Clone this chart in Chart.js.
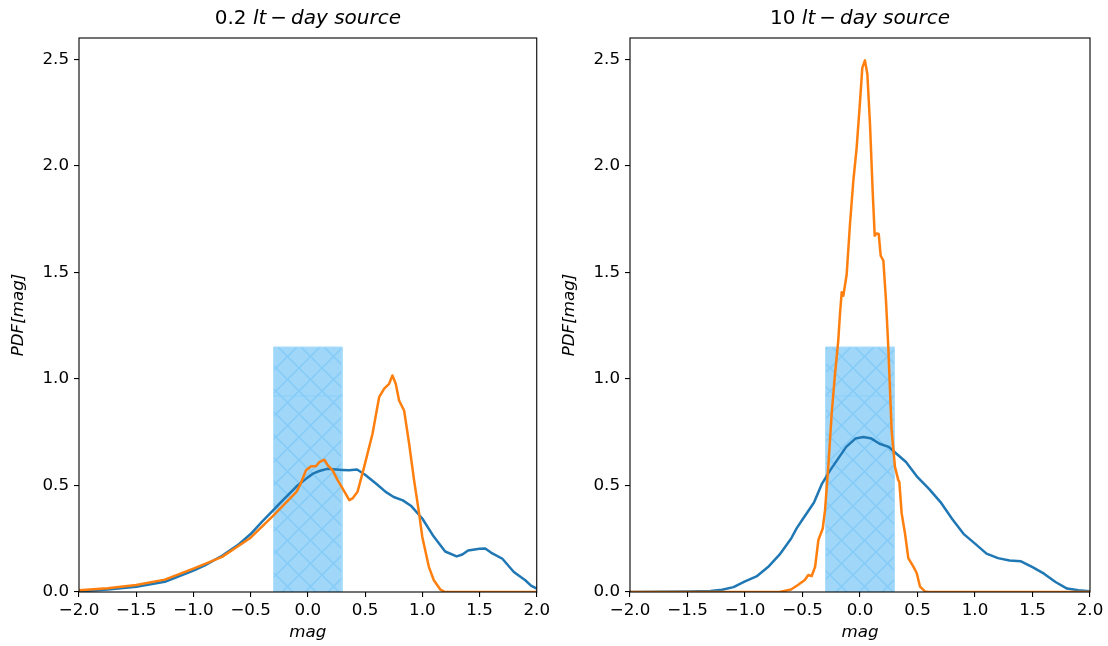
<!DOCTYPE html>
<html>
<head>
<meta charset="utf-8">
<script src="https://cdn.jsdelivr.net/npm/chart.js@4.4.0/dist/chart.umd.min.js"></script>
<style>
  body { margin: 0; background: #fff; }
  #wrap { position: relative; width: 1108px; height: 646px; }
  canvas { position: absolute; top: 0; }
</style>
</head>
<body>
<div id="wrap">
  <canvas id="left" width="554" height="646" style="left:0"></canvas>
  <canvas id="right" width="554" height="646" style="left:554px"></canvas>
</div>
<script>
// tick labels
const xTicks = [-2, -1.5, -1, -0.5, 0, 0.5, 1, 1.5, 2];
const yTicks = [0, 0.5, 1, 1.5, 2, 2.5];
const sourceSizes = ['0.2', '10'];

// shaded band (same in both panels)
const bandX = [-0.3, -0.3, 0.3, 0.3];
const bandY = [0, 1.15, 1.15, 0];
const seamY = 0.92;

// 0.2 lt-day source
const leftBlueX = [-2.0, -1.75, -1.5, -1.25, -1.0, -0.9, -0.75, -0.6, -0.5, -0.4, -0.3, -0.2, -0.1, 0.0, 0.05, 0.1, 0.17, 0.25, 0.3, 0.36, 0.43, 0.5, 0.6, 0.68, 0.75, 0.83, 0.9, 1.0, 1.1, 1.2, 1.3, 1.35, 1.4, 1.5, 1.55, 1.6, 1.7, 1.8, 1.9, 1.95, 2.0];
const leftBlueY = [0.003, 0.012, 0.025, 0.048, 0.1, 0.125, 0.17, 0.225, 0.272, 0.33, 0.385, 0.44, 0.495, 0.538, 0.557, 0.568, 0.578, 0.575, 0.573, 0.571, 0.575, 0.55, 0.507, 0.47, 0.446, 0.43, 0.405, 0.345, 0.26, 0.19, 0.167, 0.176, 0.195, 0.203, 0.204, 0.185, 0.156, 0.094, 0.055, 0.03, 0.016];
const leftOrangeX = [-2.0, -1.75, -1.5, -1.25, -1.0, -0.75, -0.5, -0.3, -0.2, -0.1, -0.07, -0.016, 0.028, 0.071, 0.1, 0.144, 0.173, 0.216, 0.26, 0.303, 0.362, 0.39, 0.434, 0.492, 0.565, 0.623, 0.667, 0.71, 0.739, 0.768, 0.797, 0.841, 0.885, 0.928, 0.972, 1.0, 1.058, 1.101, 1.159, 1.2, 1.5, 2.0];
const leftOrangeY = [0.008, 0.018, 0.033, 0.058, 0.11, 0.165, 0.255, 0.36, 0.415, 0.47, 0.5, 0.571, 0.59, 0.59, 0.61, 0.621, 0.595, 0.571, 0.525, 0.486, 0.431, 0.439, 0.47, 0.587, 0.743, 0.915, 0.954, 0.977, 1.016, 0.977, 0.899, 0.852, 0.696, 0.525, 0.369, 0.258, 0.117, 0.055, 0.011, 0.0, 0.0, 0.0];

// 10 lt-day source
const rightBlueX = [-2.0, -1.5, -1.3, -1.2, -1.1, -1.0, -0.9, -0.8, -0.7, -0.6, -0.55, -0.5, -0.4, -0.33, -0.26, -0.19, -0.12, -0.04, 0.03, 0.1, 0.17, 0.25, 0.3, 0.4, 0.5, 0.6, 0.7, 0.8, 0.9, 1.0, 1.1, 1.2, 1.3, 1.4, 1.5, 1.6, 1.7, 1.8, 1.9, 2.0];
const rightBlueY = [0.0, 0.002, 0.005, 0.011, 0.023, 0.05, 0.073, 0.117, 0.175, 0.25, 0.3, 0.34, 0.42, 0.509, 0.571, 0.626, 0.681, 0.72, 0.727, 0.72, 0.696, 0.681, 0.657, 0.61, 0.539, 0.484, 0.422, 0.344, 0.273, 0.227, 0.18, 0.159, 0.148, 0.144, 0.117, 0.086, 0.047, 0.016, 0.008, 0.003];
const rightOrangeX = [-2.0, -0.7, -0.6, -0.54, -0.48, -0.45, -0.42, -0.39, -0.362, -0.324, -0.304, -0.276, -0.246, -0.217, -0.189, -0.174, -0.159, -0.145, -0.116, -0.087, -0.058, -0.029, 0.0, 0.02, 0.043, 0.064, 0.087, 0.11, 0.128, 0.145, 0.163, 0.18, 0.203, 0.226, 0.246, 0.275, 0.304, 0.333, 0.342, 0.362, 0.391, 0.42, 0.464, 0.493, 0.522, 0.565, 0.6, 2.0];
const rightOrangeY = [0, 0, 0.012, 0.033, 0.056, 0.08, 0.075, 0.119, 0.244, 0.298, 0.384, 0.587, 0.838, 1.025, 1.18, 1.306, 1.407, 1.39, 1.49, 1.727, 1.93, 2.086, 2.3, 2.46, 2.495, 2.43, 2.195, 1.883, 1.672, 1.683, 1.68, 1.578, 1.555, 1.368, 1.149, 0.759, 0.587, 0.525, 0.517, 0.37, 0.276, 0.159, 0.119, 0.089, 0.025, 0.003, 0, 0];

const FONT = '"DejaVu Sans", sans-serif';
const pts = (xs, ys) => xs.map((x, i) => ({ x, y: ys[i] }));
const fmt = v => v.toFixed(1).replace('-', '\u2212');

// cross hatch like matplotlib 'x'
function hatchPattern() {
  const s = 23;
  const c = document.createElement('canvas');
  c.width = s; c.height = s;
  const g = c.getContext('2d');
  g.fillStyle = 'rgb(160,215,249)';
  g.fillRect(0, 0, s, s);
  g.strokeStyle = 'rgb(133,203,247)';
  g.lineWidth = 1.5;
  g.beginPath();
  for (const o of [-s, 0, s]) {
    g.moveTo(o, 0); g.lineTo(o + s, s);
    g.moveTo(o, s); g.lineTo(o + s, 0);
  }
  g.stroke();
  return g.createPattern(c, 'repeat');
}

// box around the axes + mixed-style title
const framePlugin = {
  id: 'frame',
  afterDraw(chart, args, opts) {
    const { ctx, chartArea: a } = chart;
    ctx.save();
    ctx.strokeStyle = '#000';
    ctx.lineWidth = 1.1;
    ctx.strokeRect(a.left, a.top, a.right - a.left, a.bottom - a.top);

    const parts = [
      ['normal', opts.prefix + ' '],
      ['italic', 'lt'],
      ['normal', '\u2009\u2212\u2009'],
      ['italic', 'day source']
    ];
    let total = 0;
    for (const p of parts) {
      ctx.font = p[0] + ' 20px ' + FONT;
      total += ctx.measureText(p[1]).width;
    }
    let x = (a.left + a.right) / 2 - total / 2;
    ctx.fillStyle = '#000';
    ctx.textBaseline = 'alphabetic';
    ctx.textAlign = 'left';
    for (const p of parts) {
      ctx.font = p[0] + ' 20px ' + FONT;
      ctx.fillText(p[1], x, 24);
      x += ctx.measureText(p[1]).width;
    }
    ctx.restore();
  }
};

function makeChart(id, prefix, blue, orange, yAxisW, padRight, yTitlePad) {
  const ctx = document.getElementById(id).getContext('2d');
  const tickFont = { family: FONT, size: 16.7 };
  const labelFont = { family: FONT, size: 16.7, style: 'italic' };
  return new Chart(ctx, {
    type: 'scatter',
    data: {
      datasets: [
        {
          label: 'orange',
          data: orange,
          showLine: true,
          borderColor: '#ff7f0e',
          borderWidth: 2.5,
          borderJoinStyle: 'round',
          fill: false,
          order: 0
        },
        {
          label: 'blue',
          data: blue,
          showLine: true,
          borderColor: '#1f77b4',
          borderWidth: 2.5,
          borderJoinStyle: 'round',
          fill: false,
          order: 1
        },
        {
          label: 'seam',
          data: [{ x: bandX[0], y: seamY }, { x: bandX[3], y: seamY }],
          showLine: true,
          borderColor: 'rgba(135,206,250,0.9)',
          borderWidth: 1,
          fill: false,
          order: 2
        },
        {
          label: 'band',
          data: pts(bandX, bandY),
          showLine: true,
          borderColor: 'rgb(172,222,251)',
          borderWidth: 1,
          backgroundColor: hatchPattern(),
          fill: 'origin',
          order: 3
        }
      ]
    },
    options: {
      responsive: false,
      animation: false,
      events: [],
      layout: { padding: { left: 0, right: padRight, top: 38, bottom: 0 } },
      elements: { point: { radius: 0 }, line: { tension: 0 } },
      plugins: {
        legend: { display: false },
        tooltip: { enabled: false },
        frame: { prefix }
      },
      scales: {
        x: {
          type: 'linear',
          min: -2,
          max: 2,
          afterBuildTicks: s => { s.ticks = xTicks.map(v => ({ value: v })); },
          afterFit: s => { s.height = 54; },
          border: { display: false },
          grid: { drawOnChartArea: false, color: '#000', lineWidth: 1.1, tickLength: 5 },
          ticks: { color: '#000', font: tickFont, padding: 4, maxRotation: 0, autoSkip: false, callback: v => fmt(v) },
          title: { display: true, text: 'mag', color: '#000', font: labelFont, padding: { top: 0, bottom: 3 } }
        },
        y: {
          type: 'linear',
          min: 0,
          max: 2.6,
          afterBuildTicks: s => { s.ticks = yTicks.map(v => ({ value: v })); },
          afterFit: s => { s.width = yAxisW; },
          border: { display: false },
          grid: { drawOnChartArea: false, color: '#000', lineWidth: 1.1, tickLength: 5 },
          ticks: { color: '#000', font: tickFont, padding: 5, autoSkip: false, callback: v => fmt(v) },
          title: { display: true, text: 'PDF[mag]', color: '#000', font: labelFont, padding: { top: yTitlePad, bottom: 0 } }
        }
      }
    },
    plugins: [framePlugin]
  });
}

makeChart('left', sourceSizes[0], pts(leftBlueX, leftBlueY), pts(leftOrangeX, leftOrangeY), 79, 16, 9);
makeChart('right', sourceSizes[1], pts(rightBlueX, rightBlueY), pts(rightOrangeX, rightOrangeY), 76, 18, 6);
</script>
</body>
</html>
